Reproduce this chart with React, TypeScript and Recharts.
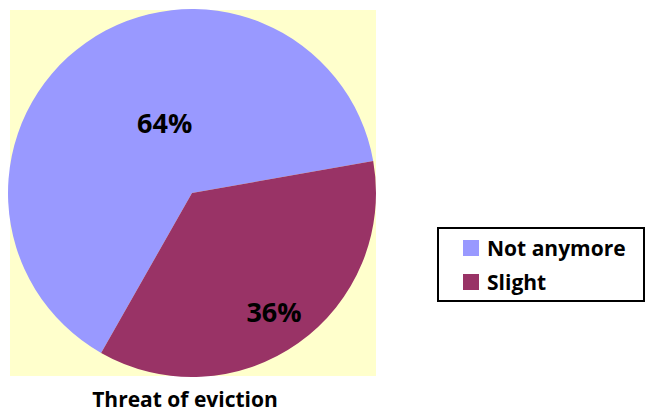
import { PieChart, Pie, Cell, Legend } from "recharts";

const categories = ["Not anymore", "Slight"];
const shares = [64, 36];
const sliceColors = ["#9999FF", "#993366"];
const chartTitle = "Threat of eviction";

const data = categories.map((name, i) => ({ name, value: shares[i] }));

// label placement per slice: fraction of radius and angle nudge (degrees)
const labelPlace = [
  { r: 0.41, da: -14 },
  { r: 0.785, da: -0.6 },
];

const FONT = "'Open Sans', 'Liberation Sans', sans-serif";
const RAD = Math.PI / 180;

function PercentLabel(props: any) {
  const { cx, cy, midAngle, outerRadius, index, value } = props;
  const p = labelPlace[index] || { r: 0.6, da: 0 };
  const a = (midAngle + p.da) * RAD;
  const x = cx + outerRadius * p.r * Math.cos(a);
  const y = cy - outerRadius * p.r * Math.sin(a);
  return (
    <text
      x={x}
      y={y}
      textAnchor="middle"
      dominantBaseline="central"
      fontFamily={FONT}
      fontWeight={700}
      fontSize={27}
      fill="#000"
    >
      {`${value}%`}
    </text>
  );
}

function LegendBox() {
  return (
    <div
      style={{
        width: 204,
        height: 71,
        border: "2px solid #000",
        background: "#fff",
        fontFamily: FONT,
        fontWeight: 700,
        fontSize: 21,
        color: "#000",
        boxSizing: "content-box",
      }}
    >
      {categories.map((c, i) => (
        <div
          key={c}
          style={{
            display: "flex",
            alignItems: "center",
            height: 34,
            marginTop: i === 0 ? 2 : 0,
            paddingLeft: 24,
          }}
        >
          <span
            style={{
              display: "inline-block",
              width: 16,
              height: 16,
              background: sliceColors[i],
              marginRight: 8,
            }}
          />
          <span style={{ lineHeight: "34px" }}>{c}</span>
        </div>
      ))}
    </div>
  );
}

export default function App() {
  return (
    <div
      style={{
        position: "absolute",
        left: 0,
        top: 0,
        width: 647,
        height: 412,
        background: "#fff",
        overflow: "hidden",
      }}
    >
      <div
        style={{
          position: "absolute",
          left: 10,
          top: 10,
          width: 366,
          height: 366,
          background: "#FFFFCC",
        }}
      />
      <div style={{ position: "absolute", left: 0, top: 0 }}>
        <PieChart
          width={647}
          height={412}
          margin={{ top: 0, right: 0, bottom: 0, left: 0 }}
        >
          <Pie
            data={data}
            dataKey="value"
            nameKey="name"
            cx={192}
            cy={193}
            outerRadius={184}
            startAngle={10}
            endAngle={370}
            stroke="none"
            label={PercentLabel}
            labelLine={false}
            isAnimationActive={false}
          >
            {data.map((d, i) => (
              <Cell key={d.name} fill={sliceColors[i]} />
            ))}
          </Pie>
          <Legend
            content={() => <LegendBox />}
            wrapperStyle={{ position: "absolute", left: 437, top: 227, width: "auto" }}
          />
        </PieChart>
      </div>
      <div
        style={{
          position: "absolute",
          left: 0,
          width: 370,
          top: 389,
          textAlign: "center",
          fontFamily: FONT,
          fontWeight: 700,
          fontSize: 21,
          lineHeight: "20px",
          color: "#000",
        }}
      >
        {chartTitle}
      </div>
    </div>
  );
}
